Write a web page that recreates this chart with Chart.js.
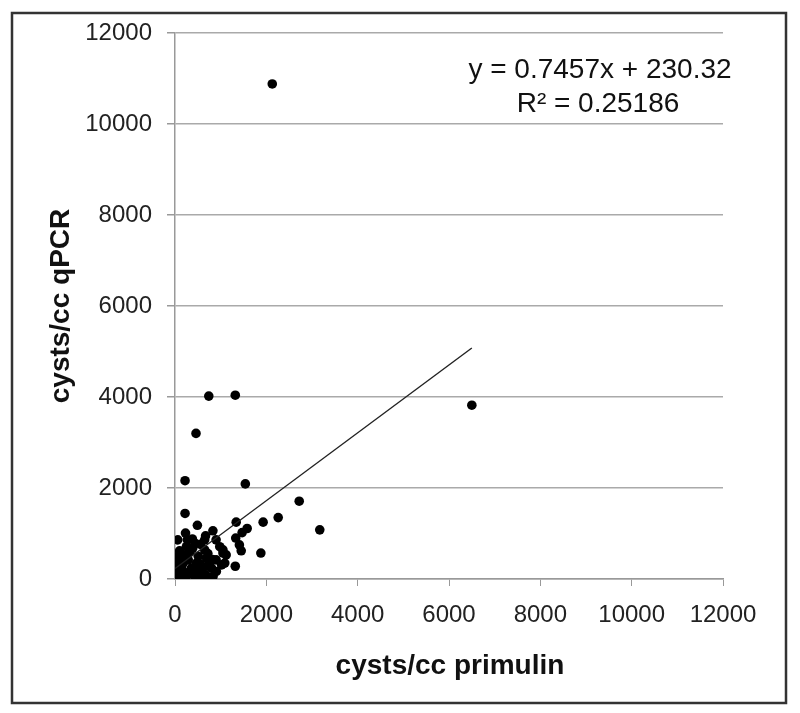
<!DOCTYPE html>
<html>
<head>
<meta charset="utf-8">
<script src="https://cdn.jsdelivr.net/npm/chart.js@4/dist/chart.umd.min.js"></script>
<style>
  html, body { margin: 0; padding: 0; background: #fff; }
  #wrap { width: 800px; height: 713px; position: relative; }
</style>
</head>
<body>
<div id="wrap"><canvas id="chartCysts"></canvas></div>
<script>
// primulin counts (x) vs qPCR counts (y), cysts/cc
const xVals = [2130, 6500, 740, 1320, 460, 220, 1540, 2720, 220, 2260, 1930, 1340, 490, 1580, 3170, 1470, 830, 230,
  60, 270, 670, 900, 1330, 1410, 1450, 1050, 1120, 1880, 1320, 1020, 690, 20, 0,
  650, 435, 250, 900, 690, 510, 290, 70, 1090, 800, 580, 360, 145, 36, 217, 435, 652, 833, 906, 470, 180, 650, 330, 980, 1050,
  120, 300, 550, 760, 100, 380, 560, 40, 150, 250, 350, 480, 600, 720, 110, 200, 420, 530, 820, 10, 80, 160, 280, 390, 700];
const yVals = [10880, 3820, 4020, 4040, 3200, 2160, 2090, 1710, 1440, 1350, 1250, 1250, 1180, 1110, 1080, 1020, 1060, 1010,
  860, 860, 950, 860, 900, 750, 620, 640, 530, 570, 280, 310, 70, 480, 20,
  860, 790, 710, 420, 460, 500, 420, 500, 350, 240, 200, 240, 240, 94, 94, 57, 94, 57, 166, 350, 350, 640, 600, 710, 570,
  30, 150, 330, 380, 620, 880, 760, 300, 160, 60, 120, 150, 40, 560, 400, 520, 250, 200, 430, 200, 30, 450, 560, 680, 280];

const slope = 0.7457;
const intercept = 230.32;
const trendRange = [0, 6500];

const xTicks = [0, 2000, 4000, 6000, 8000, 10000, 12000];
const yTicks = [0, 2000, 4000, 6000, 8000, 10000, 12000];

const points = xVals.map((x, i) => ({ x: x, y: yVals[i] }));
const trend = trendRange.map(x => ({ x: x, y: slope * x + intercept }));

const FONT = '"Liberation Sans", Arial, sans-serif';

const frameAndText = {
  id: 'frameAndText',
  afterDraw(chart) {
    const ctx = chart.ctx;
    ctx.save();
    ctx.strokeStyle = '#333';
    ctx.lineWidth = 2.5;
    ctx.strokeRect(12, 13, 774, 690);
    ctx.fillStyle = '#111';
    ctx.textAlign = 'center';
    ctx.textBaseline = 'middle';
    ctx.font = '28px ' + FONT;
    ctx.fillText('y = 0.7457x + 230.32', 600, 70);
    ctx.fillText('R² = 0.25186', 598, 104);
    ctx.font = 'bold 28px ' + FONT;
    ctx.fillText('cysts/cc primulin', 450, 666);
    ctx.translate(61, 306);
    ctx.rotate(-Math.PI / 2);
    ctx.fillText('cysts/cc qPCR', 0, 0);
    ctx.restore();
  }
};

new Chart(document.getElementById('chartCysts'), {
  type: 'scatter',
  data: {
    datasets: [{
      label: 'trend',
      data: trend,
      showLine: true,
      borderColor: '#222',
      borderWidth: 1.4,
      pointRadius: 0,
      order: 1
    }, {
      label: 'samples',
      data: points,
      backgroundColor: '#000',
      borderColor: '#000',
      pointRadius: 4.8,
      pointBorderWidth: 0,
      order: 2
    }]
  },
  options: {
    responsive: true,
    maintainAspectRatio: false,
    animation: false,
    layout: { padding: { top: 33, right: 77, left: 0, bottom: 0 } },
    plugins: { legend: { display: false }, tooltip: { enabled: false } },
    scales: {
      x: {
        type: 'linear',
        min: 0, max: 12000,
        afterBuildTicks: s => { s.ticks = xTicks.map(v => ({ value: v })); },
        afterFit: s => { s.height = 713 - 579; },
        grid: { color: 'rgba(0,0,0,0)', tickColor: '#999', tickLength: 7, drawOnChartArea: false },
        border: { color: '#999', width: 1.5 },
        ticks: { color: '#222', padding: 15, maxRotation: 0, callback: v => String(v), font: { family: FONT, size: 24 } }
      },
      y: {
        type: 'linear',
        min: 0, max: 12000,
        afterBuildTicks: s => { s.ticks = yTicks.map(v => ({ value: v })); },
        afterFit: s => { s.width = 175; },
        grid: { color: '#aaa', lineWidth: 1.5, tickColor: '#999', tickLength: 8 },
        border: { color: '#999', width: 1.5 },
        ticks: { color: '#222', padding: 15, callback: v => String(v), font: { family: FONT, size: 24 } }
      }
    }
  },
  plugins: [frameAndText]
});
</script>
</body>
</html>
